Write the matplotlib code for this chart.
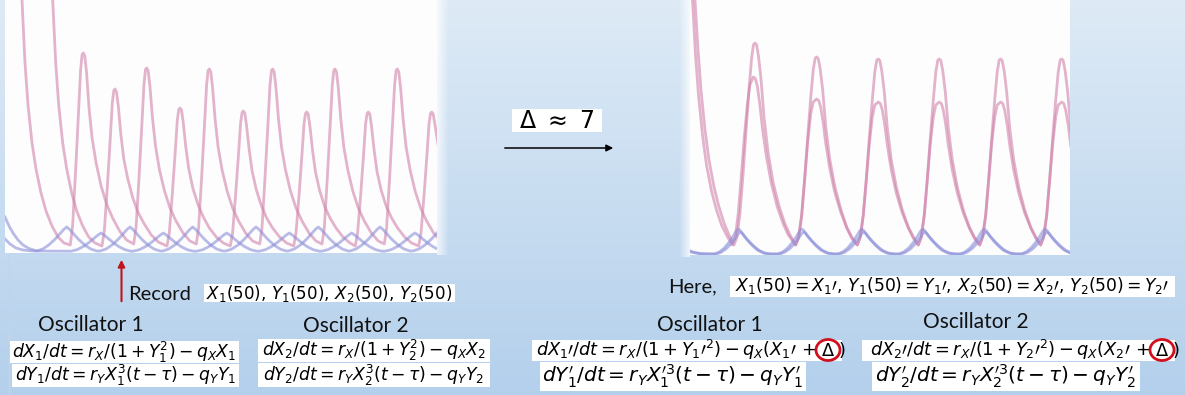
import numpy as np
import matplotlib.pyplot as plt
from matplotlib.patches import Rectangle, Ellipse

plt.rcParams['mathtext.fontset'] = 'dejavusans'
plt.rcParams['font.family'] = ['Lato', 'DejaVu Sans']

# ---- data (t in slide px, level in px above axis) ----
# left panel: before the shift
left_x1 = [(20, 290), (22, 253), (25, 190), (28, 148), (32, 110), (36, 84), (41, 60), (46, 42), (52, 27), (58, 16), (64, 10), (70.3, 8),
           (72.6, 27), (75.6, 82), (78.6, 142), (80.6, 183), (82.1, 198.5), (83.3, 200), (84.8, 197), (86.6, 180), (89.1, 144), (92.1, 115),
           (96.1, 90), (101.1, 67), (106.6, 49), (112.6, 35), (119.6, 22), (126.6, 13),
           (133.7, 9), (136.0, 25), (139.0, 75), (142.0, 131), (144.0, 169), (145.5, 183.5), (146.7, 185), (148.2, 182), (150.0, 166),
           (152.5, 135), (155.5, 107), (159.5, 83), (164.5, 62), (170.0, 45), (176.0, 32), (183.0, 20), (190.0, 12),
           (196.3, 9), (198.6, 25), (201.6, 75), (204.6, 130), (206.6, 168), (208.1, 182.5), (209.3, 184), (210.8, 181), (212.6, 165),
           (215.1, 134), (218.1, 106), (222.1, 83), (227.1, 62), (232.6, 45), (238.6, 32), (245.6, 20), (252.6, 12),
           (259.7, 9), (262.0, 25), (265.0, 75), (268.0, 130), (270.0, 168), (271.5, 182.5), (272.7, 184), (274.2, 181), (276.0, 165),
           (278.5, 134), (281.5, 106), (285.5, 83), (290.5, 62), (296.0, 45), (302.0, 32), (309.0, 20), (316.0, 12),
           (322.0, 9), (324.3, 25), (327.3, 75), (330.3, 130), (332.3, 168), (333.8, 182.5), (335.0, 184), (336.5, 181), (338.3, 165),
           (340.8, 134), (343.8, 106), (347.8, 83), (352.8, 62), (358.3, 45), (364.3, 32), (371.3, 20), (378.3, 12),
           (384.3, 9), (386.6, 25), (389.6, 75), (392.6, 130), (394.6, 168), (396.1, 182.5), (397.3, 184), (398.8, 181), (400.6, 165),
           (403.1, 134), (406.1, 106), (410.1, 83), (415.1, 62), (420.6, 45), (426.6, 32), (433.6, 20), (440.6, 12)]

left_x2 = [(51, 290), (52.7, 253), (55.7, 190), (58.7, 148), (62.7, 110), (66.7, 84), (71.7, 60), (76.7, 42), (82.7, 27), (88.7, 16), (95, 10), (102, 7),
           (104.3, 22), (107.3, 66), (110.3, 115), (112.3, 150), (113.8, 162.5), (115, 164), (116.5, 161), (118.3, 147), (120.8, 119),
           (123.8, 94), (127.8, 74), (132.8, 55), (138.3, 40), (144.3, 29), (151.3, 18), (158.3, 11),
           (167, 7), (169.3, 20), (172.3, 59), (175.3, 102), (177.3, 133), (178.8, 143.5), (180, 145), (181.5, 143), (183.3, 130),
           (185.8, 106), (188.8, 84), (192.8, 65), (197.8, 49), (203.3, 36), (209.3, 25), (216.3, 16), (223.3, 10),
           (230.3, 7), (232.6, 20), (235.6, 58), (238.6, 100), (240.6, 130), (242.1, 140.5), (243.3, 142), (244.8, 140), (246.6, 127),
           (249.1, 104), (252.1, 82), (256.1, 64), (261.1, 48), (266.6, 35), (272.6, 25), (279.6, 16), (286.6, 10),
           (293.7, 7), (296.0, 20), (299.0, 57), (302.0, 99), (304.0, 129), (305.5, 139.5), (306.7, 141), (308.2, 139), (310.0, 126),
           (312.5, 103), (315.5, 81), (319.5, 63), (324.5, 47), (330.0, 35), (336.0, 25), (343.0, 16), (350.0, 10),
           (355.3, 7), (357.6, 20), (360.6, 57), (363.6, 99), (365.6, 129), (367.1, 139.5), (368.3, 141), (369.8, 139), (371.6, 126),
           (374.1, 103), (377.1, 81), (381.1, 63), (386.1, 47), (391.6, 35), (397.6, 25), (404.6, 16), (411.6, 10),
           (418.7, 7), (421.0, 20), (424.0, 57), (427.0, 99), (429.0, 129), (430.5, 139.5), (431.7, 141), (433.2, 139), (435.0, 128),
           (437.5, 112), (440.5, 92)]

left_y1 = [(5, 36), (9, 27), (13, 20), (18, 13), (23, 8), (29, 4.5), (36.7, 2),
           (42.7, 4), (48.7, 8), (54.7, 13.5), (59.7, 19), (63.7, 23.5), (66.7, 26), (69.7, 23.5), (73.7, 19), (78.7, 13.5), (84.7, 8), (90.7, 4), (96.7, 2),
           (100, 2), (106, 4), (112, 8), (118, 13.5), (123, 19), (127, 23.5), (130, 26), (133, 23.5), (137, 19), (142, 13.5), (148, 8), (154, 4), (160, 2),
           (162.7, 2), (168.7, 4), (174.7, 8), (180.7, 13.5), (185.7, 19), (189.7, 23.5), (192.7, 26), (195.7, 23.5), (199.7, 19), (204.7, 13.5), (210.7, 8), (216.7, 4), (222.7, 2),
           (226, 2), (232, 4), (238, 8), (244, 13.5), (249, 19), (253, 23.5), (256, 26), (259, 23.5), (263, 19), (268, 13.5), (274, 8), (280, 4), (286, 2),
           (288.3, 2), (294.3, 4), (300.3, 8), (306.3, 13.5), (311.3, 19), (315.3, 23.5), (318.3, 26), (321.3, 23.5), (325.3, 19), (330.3, 13.5), (336.3, 8), (342.3, 4), (348.3, 2),
           (350, 2), (356, 4), (362, 8), (368, 13.5), (373, 19), (377, 23.5), (380, 26), (383, 23.5), (387, 19), (392, 13.5), (398, 8), (404, 4), (410, 2),
           (413, 2), (419, 4), (425, 8), (431, 13.5), (437, 20)]

left_y2 = [(5, 14), (10, 9), (16, 5), (23, 3), (32, 2), (71, 1.8),
           (77, 3.3), (83, 6.3), (89, 10.5), (94, 14.7), (98, 18), (101, 20), (104, 18), (108, 14.7), (113, 10.5), (119, 6.3), (125, 3.3), (131, 1.8),
           (133.3, 1.8), (139.3, 3.3), (145.3, 6.3), (151.3, 10.5), (156.3, 14.7), (160.3, 18), (163.3, 20), (166.3, 18), (170.3, 14.7), (175.3, 10.5), (181.3, 6.3), (187.3, 3.3), (193.3, 1.8),
           (196.7, 1.8), (202.7, 3.3), (208.7, 6.3), (214.7, 10.5), (219.7, 14.7), (223.7, 18), (226.7, 20), (229.7, 18), (233.7, 14.7), (238.7, 10.5), (244.7, 6.3), (250.7, 3.3), (256.7, 1.8),
           (259.3, 1.8), (265.3, 3.3), (271.3, 6.3), (277.3, 10.5), (282.3, 14.7), (286.3, 18), (289.3, 20), (292.3, 18), (296.3, 14.7), (301.3, 10.5), (307.3, 6.3), (313.3, 3.3), (319.3, 1.8),
           (321.7, 1.8), (327.7, 3.3), (333.7, 6.3), (339.7, 10.5), (344.7, 14.7), (348.7, 18), (351.7, 20), (354.7, 18), (358.7, 14.7), (363.7, 10.5), (369.7, 6.3), (375.7, 3.3), (381.7, 1.8),
           (385, 1.8), (391, 3.3), (397, 6.3), (403, 10.5), (408, 14.7), (412, 18), (415, 20), (418, 18), (422, 14.7), (427, 10.5), (433, 6.3), (439, 3.3)]

# right panel: after the shift (delta ~ 7), oscillators in phase
right_x1 = [(693, 280), (695, 255), (698, 205), (701, 165), (705, 125), (709, 95), (714, 68), (719, 48), (724, 32), (729, 20), (734, 10),
            (737, 18), (740, 42), (743, 80), (746, 124), (749, 165), (751.5, 196), (753.5, 210.5), (755, 212), (756.5, 210.5), (758.5, 199),
            (761, 176), (764, 138), (768, 103), (773, 73), (779, 49), (785, 31), (790, 20), (795.7, 10),
            (798.7, 18), (801.7, 40), (804.7, 77), (807.7, 118), (810.7, 157), (813.2, 185), (815.2, 197), (816.7, 198), (818.2, 196.5),
            (820.2, 186), (822.7, 165), (825.7, 129), (829.7, 96), (834.7, 69), (840.7, 46), (846.7, 28), (851.7, 18), (857.3, 10),
            (860.3, 18), (863.3, 40), (866.3, 76), (869.3, 117), (872.3, 155), (874.8, 183), (876.8, 195), (878.3, 196), (879.8, 194.5),
            (881.8, 184), (884.3, 163), (887.3, 127), (891.3, 95), (896.3, 68), (902.3, 45), (908.3, 28), (913.3, 18), (918.3, 10),
            (921.3, 18), (924.3, 40), (927.3, 76), (930.3, 117), (933.3, 155), (935.8, 183), (937.8, 195), (939.3, 196), (940.8, 194.5),
            (942.8, 184), (945.3, 163), (948.3, 127), (952.3, 95), (957.3, 68), (963.3, 45), (969.3, 28), (974.3, 18), (979.7, 10),
            (982.7, 18), (985.7, 40), (988.7, 76), (991.7, 117), (994.7, 155), (997.2, 183), (999.2, 195), (1000.7, 196), (1002.2, 194.5),
            (1004.2, 184), (1006.7, 163), (1009.7, 127), (1013.7, 95), (1018.7, 68), (1024.7, 45), (1030.7, 28), (1035.7, 18), (1040.7, 10),
            (1043.7, 18), (1046.7, 40), (1049.7, 76), (1052.7, 117), (1055.7, 155), (1058.2, 183), (1060.2, 195), (1061.7, 196), (1063.2, 194.5),
            (1065.2, 184), (1067.7, 163), (1070.7, 127), (1074.7, 95)]

right_x2 = [(690.5, 280), (692.5, 255), (695.5, 200), (698.5, 160), (702.5, 120), (706.5, 90), (711.5, 64), (716.5, 45), (721.5, 30), (727, 19), (732.3, 10),
            (735.3, 18), (738.3, 42), (741.3, 79), (744.3, 118), (747.3, 150), (749.8, 170), (753.3, 178), (755.3, 176.5), (757.3, 169),
            (759.8, 151), (762.3, 128), (766.3, 99), (771.3, 72), (777.3, 48), (783.3, 31), (788.3, 20), (795.7, 10),
            (798.7, 18), (801.7, 40), (804.7, 76), (807.7, 113), (810.7, 141), (813.2, 153), (816.7, 156), (818.7, 154.5), (820.7, 148),
            (823.2, 132), (825.7, 112), (829.7, 87), (834.7, 63), (840.7, 43), (846.7, 27), (851.7, 17), (857.3, 10),
            (860.3, 18), (863.3, 40), (866.3, 75), (869.3, 111), (872.3, 138), (874.8, 150), (878.3, 153), (880.3, 151.5), (882.3, 145),
            (884.8, 130), (887.3, 110), (891.3, 85), (896.3, 62), (902.3, 42), (908.3, 27), (913.3, 17), (918.3, 10),
            (921.3, 18), (924.3, 40), (927.3, 75), (930.3, 111), (933.3, 138), (935.8, 150), (939.3, 153), (941.3, 151.5), (943.3, 145),
            (945.8, 130), (948.3, 110), (952.3, 85), (957.3, 62), (963.3, 42), (969.3, 27), (974.3, 17), (979.7, 10),
            (982.7, 18), (985.7, 40), (988.7, 75), (991.7, 111), (994.7, 138), (997.2, 150), (1000.7, 153), (1002.7, 151.5), (1004.7, 145),
            (1007.2, 130), (1009.7, 110), (1013.7, 85), (1018.7, 62), (1024.7, 42), (1030.7, 27), (1035.7, 17), (1040.7, 10),
            (1043.7, 18), (1046.7, 40), (1049.7, 75), (1052.7, 111), (1055.7, 138), (1058.2, 150), (1061.7, 153), (1063.7, 151.5), (1065.7, 145),
            (1068.2, 130), (1070.7, 110), (1074.7, 85)]

right_y1 = [(688, 5), (693, 3), (700, 1.5), (708, 1), (714.3, 1),
            (719.3, 3), (724.3, 7), (729.3, 13), (733.3, 19), (736.3, 24), (738.3, 26), (740.3, 24.5), (743.3, 20), (747.3, 15), (752.3, 9.5), (757.3, 5), (763.3, 2), (769.3, 1),
            (777.7, 1), (782.7, 3), (787.7, 7), (792.7, 13), (796.7, 19), (799.7, 24), (801.7, 26), (803.7, 24.5), (806.7, 20), (810.7, 15), (815.7, 9.5), (820.7, 5), (826.7, 2), (832.7, 1),
            (837.7, 1), (842.7, 3), (847.7, 7), (852.7, 13), (856.7, 19), (859.7, 24), (861.7, 26), (863.7, 24.5), (866.7, 20), (870.7, 15), (875.7, 9.5), (880.7, 5), (886.7, 2), (892.7, 1),
            (898.7, 1), (903.7, 3), (908.7, 7), (913.7, 13), (917.7, 19), (920.7, 24), (922.7, 26), (924.7, 24.5), (927.7, 20), (931.7, 15), (936.7, 9.5), (941.7, 5), (947.7, 2), (953.7, 1),
            (960, 1), (965, 3), (970, 7), (975, 13), (979, 19), (982, 24), (984, 26), (986, 24.5), (989, 20), (993, 15), (998, 9.5), (1003, 5), (1009, 2), (1015, 1),
            (1021, 1), (1026, 3), (1031, 7), (1036, 13), (1040, 19), (1043, 24), (1045, 26), (1047, 24.5), (1050, 20), (1054, 15), (1059, 9.5), (1064, 5), (1070, 2)]

right_y2 = [(688, 4), (693, 2.5), (700, 1.2), (716.3, 1),
            (721.3, 2.8), (726.3, 6.3), (731.3, 11.5), (735.3, 17), (738.3, 21.3), (740.3, 23), (742.3, 21.7), (745.3, 17.8), (749.3, 13.3), (754.3, 8.5), (759.3, 4.5), (765.3, 1.8), (771.3, 1),
            (779.7, 1), (784.7, 2.8), (789.7, 6.3), (794.7, 11.5), (798.7, 17), (801.7, 21.3), (803.7, 23), (805.7, 21.7), (808.7, 17.8), (812.7, 13.3), (817.7, 8.5), (822.7, 4.5), (828.7, 1.8), (834.7, 1),
            (839.7, 1), (844.7, 2.8), (849.7, 6.3), (854.7, 11.5), (858.7, 17), (861.7, 21.3), (863.7, 23), (865.7, 21.7), (868.7, 17.8), (872.7, 13.3), (877.7, 8.5), (882.7, 4.5), (888.7, 1.8), (894.7, 1),
            (900.7, 1), (905.7, 2.8), (910.7, 6.3), (915.7, 11.5), (919.7, 17), (922.7, 21.3), (924.7, 23), (926.7, 21.7), (929.7, 17.8), (933.7, 13.3), (938.7, 8.5), (943.7, 4.5), (949.7, 1.8), (955.7, 1),
            (962, 1), (967, 2.8), (972, 6.3), (977, 11.5), (981, 17), (984, 21.3), (986, 23), (988, 21.7), (991, 17.8), (995, 13.3), (1000, 8.5), (1005, 4.5), (1011, 1.8), (1017, 1),
            (1023, 1), (1028, 2.8), (1033, 6.3), (1038, 11.5), (1042, 17), (1045, 21.3), (1047, 23), (1049, 21.7), (1052, 17.8), (1056, 13.3), (1061, 8.5), (1066, 4.5), (1072, 1.8)]

PINK = '#d083aa'
BLUE = '#8b8fd8'

W, H = 1185, 395
fig = plt.figure(figsize=(W / 100, H / 100), dpi=100)

# slide background (px coordinates, y down)
bg = fig.add_axes([0, 0, 1, 1])
bg.set_xlim(0, W)
bg.set_ylim(H, 0)
bg.axis('off')
g = np.linspace(0, 1, 256)[:, None, None]
top_c = np.array([0.87, 0.92, 0.965])
bot_c = np.array([0.705, 0.815, 0.925])
bg.imshow(top_c + (bot_c - top_c) * g, extent=[0, W, H, 0], aspect='auto', zorder=0)

# soft edges beside the two panels
fade = np.zeros((1, 64, 4))
fade[..., :3] = 1
fade[..., 3] = np.linspace(0.75, 0, 64)
bg.imshow(fade, extent=[437, 449, 255, 0], aspect='auto', zorder=1)
bg.imshow(fade[:, ::-1], extent=[679, 690, 257, 0], aspect='auto', zorder=1)
bg.plot([9, 9], [256, 395], color='#c9d3dc', lw=1, zorder=1)


def panel(x0, x1, bottom, curves):
    ax = fig.add_axes([x0 / W, 1 - bottom / H, (x1 - x0) / W, bottom / H])
    ax.set_facecolor('#fdfdfe')
    ax.set_xlim(x0, x1)
    ax.set_ylim(0, bottom)
    ax.set_xticks([])
    ax.set_yticks([])
    for s in ax.spines.values():
        s.set_visible(False)
    for pts, col in curves:
        t, v = np.array(pts).T
        ax.plot(t, v, color=col, lw=2.0, alpha=0.6, solid_joinstyle='round')
    return ax


panel(5, 437, 253, [(left_x1, PINK), (left_x2, PINK), (left_y1, BLUE), (left_y2, BLUE)])
panel(690, 1070, 255, [(right_x1, PINK), (right_x2, PINK), (right_y1, BLUE), (right_y2, BLUE)])


def white_box(x0, y0, x1, y1):
    bg.add_patch(Rectangle((x0, y0), x1 - x0, y1 - y0, facecolor='white', edgecolor='none', zorder=2))


# middle: shift arrow
white_box(512, 109, 602, 132)
bg.text(557, 121, r'$\Delta\ \approx\ 7$', fontsize=17, ha='center', va='center', zorder=3)
bg.annotate('', xy=(616, 148), xytext=(502, 148),
            arrowprops=dict(arrowstyle='-|>', color='black', lw=1.1, mutation_scale=10), zorder=3)

# left: record point
bg.annotate('', xy=(121.5, 257), xytext=(121.5, 304),
            arrowprops=dict(arrowstyle='-|>', color='#c0141c', lw=1.5, mutation_scale=10), zorder=3)
bg.text(128, 294, 'Record', fontsize=14.5, ha='left', va='center', color='#111111', zorder=3)
white_box(204, 284, 455, 302)
bg.text(329, 293, r'$X_1(50),\,Y_1(50),\,X_2(50),\,Y_2(50)$', fontsize=12, ha='center', va='center', zorder=3)

bg.text(91, 325, 'Oscillator 1', fontsize=15, ha='center', va='center', color='#111111', zorder=3)
bg.text(356, 326, 'Oscillator 2', fontsize=15, ha='center', va='center', color='#111111', zorder=3)

white_box(10, 341, 239, 363)
white_box(12, 364, 239, 387)
bg.text(124, 352, r'$dX_1/dt = r_X/(1+Y_1^2) - q_X X_1$', fontsize=12.4, ha='center', va='center', zorder=3)
bg.text(126, 375, r'$dY_1/dt = r_Y X_1^3(t-\tau) - q_Y Y_1$', fontsize=12.4, ha='center', va='center', zorder=3)
white_box(258, 339, 490, 362)
white_box(258, 363, 490, 387)
bg.text(374, 350, r'$dX_2/dt = r_X/(1+Y_2^2) - q_X X_2$', fontsize=12.4, ha='center', va='center', zorder=3)
bg.text(374, 375, r'$dY_2/dt = r_Y X_2^3(t-\tau) - q_Y Y_2$', fontsize=12.4, ha='center', va='center', zorder=3)

# right: restarted oscillators
bg.text(668, 287, 'Here,', fontsize=14.5, ha='left', va='center', color='#111111', zorder=3)
white_box(730, 276, 1175, 297)
bg.text(952, 286, r"$X_1(50) = X_1\prime,\,Y_1(50) = Y_1\prime,\,X_2(50) = X_2\prime,\,Y_2(50) = Y_2\prime$",
        fontsize=12.3, ha='center', va='center', zorder=3)

bg.text(710, 325, 'Oscillator 1', fontsize=15, ha='center', va='center', color='#111111', zorder=3)
bg.text(976, 322, 'Oscillator 2', fontsize=15, ha='center', va='center', color='#111111', zorder=3)

white_box(532, 340, 842, 361)
white_box(540, 362, 806, 391)
bg.text(816, 350, r"$dX_1\prime/dt = r_X/(1+Y_1\prime^2) - q_X(X_1\prime\, +$", fontsize=12.8, ha='right', va='center', zorder=3)
bg.text(828, 350, r"$\Delta$", fontsize=12.8, ha='center', va='center', zorder=3)
bg.text(838, 350, r"$)$", fontsize=12.8, ha='left', va='center', zorder=3)
bg.text(673, 376, r"$dY_1^{\prime}/dt = r_Y X_1^{\prime 3}(t-\tau) - q_Y Y_1^{\prime}$", fontsize=14.5, ha='center', va='center', zorder=3)
white_box(862, 340, 1175, 361)
white_box(872, 362, 1140, 391)
bg.text(1150, 350, r"$dX_2\prime/dt = r_X/(1+Y_2\prime^2) - q_X(X_2\prime\, +$", fontsize=12.8, ha='right', va='center', zorder=3)
bg.text(1162, 350, r"$\Delta$", fontsize=12.8, ha='center', va='center', zorder=3)
bg.text(1172, 350, r"$)$", fontsize=12.8, ha='left', va='center', zorder=3)
bg.text(1006, 376, r"$dY_2^{\prime}/dt = r_Y X_2^{\prime 3}(t-\tau) - q_Y Y_2^{\prime}$", fontsize=14.5, ha='center', va='center', zorder=3)

for cx in (828, 1162):
    bg.add_patch(Ellipse((cx, 350), 24, 21, facecolor='none', edgecolor='#d0101c', lw=2, zorder=4))

fig.savefig('out.png', dpi=100)
